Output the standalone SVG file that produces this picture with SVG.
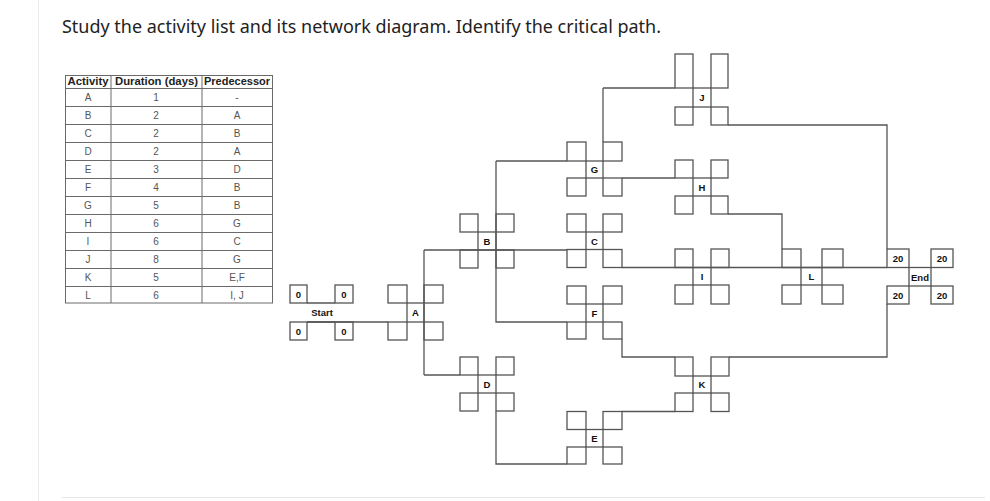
<svg xmlns="http://www.w3.org/2000/svg" width="990" height="501" viewBox="0 0 990 501">
<style>
.t{font-family:"Liberation Sans",Arial,sans-serif;}
.title{font-family:"Noto Sans","Open Sans","Liberation Sans",sans-serif;font-size:18px;fill:#222;}
.hd{font-family:"Liberation Sans",Arial,sans-serif;font-size:10px;font-weight:bold;fill:#222;text-anchor:middle;}
.cell{font-family:"Liberation Sans",Arial,sans-serif;font-size:10px;fill:#555;text-anchor:middle;}
.grid{fill:none;stroke:#6a6a6a;stroke-width:1;}
.box{fill:none;stroke:#555;stroke-width:1.3;}
.ln{fill:none;stroke:#555;stroke-width:1.3;}
.lbl{font-family:"Liberation Sans",Arial,sans-serif;font-size:9.5px;font-weight:bold;fill:#111;text-anchor:middle;}
</style>
<rect width="990" height="501" fill="#fff"/>
<line x1="38.5" y1="0" x2="38.5" y2="501" stroke="#ececec" stroke-width="1"/>
<line x1="62" y1="497.5" x2="985" y2="497.5" stroke="#e6e6e6" stroke-width="1"/>
<text class="title" x="62" y="33" textLength="599" lengthAdjust="spacingAndGlyphs">Study the activity list and its network diagram. Identify the critical path.</text>

<g id="table">
<rect class="grid" x="65.5" y="75.5" width="207" height="227.5"/>
<line class="grid" x1="111" y1="75.5" x2="111" y2="303"/>
<line class="grid" x1="202" y1="75.5" x2="202" y2="303"/>
<g class="grid">
<line x1="65.5" y1="88.5" x2="272.5" y2="88.5"/>
<line x1="65.5" y1="106.5" x2="272.5" y2="106.5"/>
<line x1="65.5" y1="124.5" x2="272.5" y2="124.5"/>
<line x1="65.5" y1="142.5" x2="272.5" y2="142.5"/>
<line x1="65.5" y1="160.5" x2="272.5" y2="160.5"/>
<line x1="65.5" y1="178.5" x2="272.5" y2="178.5"/>
<line x1="65.5" y1="196.5" x2="272.5" y2="196.5"/>
<line x1="65.5" y1="214.5" x2="272.5" y2="214.5"/>
<line x1="65.5" y1="232.5" x2="272.5" y2="232.5"/>
<line x1="65.5" y1="250.5" x2="272.5" y2="250.5"/>
<line x1="65.5" y1="268.5" x2="272.5" y2="268.5"/>
<line x1="65.5" y1="286.5" x2="272.5" y2="286.5"/>
</g>
<text class="hd" x="88" y="85" textLength="41" lengthAdjust="spacingAndGlyphs">Activity</text>
<text class="hd" x="156.5" y="85" textLength="83" lengthAdjust="spacingAndGlyphs">Duration (days)</text>
<text class="hd" x="237" y="85" textLength="66" lengthAdjust="spacingAndGlyphs">Predecessor</text>
<g class="cell">
<text x="88" y="101">A</text><text x="156" y="101">1</text><text x="237" y="101">-</text>
<text x="88" y="119">B</text><text x="156" y="119">2</text><text x="237" y="119">A</text>
<text x="88" y="137">C</text><text x="156" y="137">2</text><text x="237" y="137">B</text>
<text x="88" y="155">D</text><text x="156" y="155">2</text><text x="237" y="155">A</text>
<text x="88" y="173">E</text><text x="156" y="173">3</text><text x="237" y="173">D</text>
<text x="88" y="191">F</text><text x="156" y="191">4</text><text x="237" y="191">B</text>
<text x="88" y="209">G</text><text x="156" y="209">5</text><text x="237" y="209">B</text>
<text x="88" y="227">H</text><text x="156" y="227">6</text><text x="237" y="227">G</text>
<text x="88" y="245">I</text><text x="156" y="245">6</text><text x="237" y="245">C</text>
<text x="88" y="263">J</text><text x="156" y="263">8</text><text x="237" y="263">G</text>
<text x="88" y="281">K</text><text x="156" y="281">5</text><text x="237" y="281">E,F</text>
<text x="88" y="299">L</text><text x="156" y="299">6</text><text x="237" y="299">I, J</text>
</g>
</g>

<g id="connectors" class="ln">
<path d="M307 322 H388"/>
<path d="M424 250 V375"/>
<path d="M424 250 H567"/>
<path d="M424 375 H460"/>
<path d="M496 161 V322 H567"/>
<path d="M496 161 H567"/>
<path d="M496 411 V464 H567"/>
<path d="M603 88 V142"/>
<path d="M603 88 H675"/>
<path d="M622 178 H675"/>
<path d="M622 267.5 H887"/>
<path d="M622 339 V357 H675"/>
<path d="M622 411.5 H675"/>
<path d="M728 125 H887 V249"/>
<path d="M728 214 H782 V249"/>
<path d="M729 357 H887 V304"/>
</g>

<g id="node-start">
<rect class="box" x="290" y="285" width="17" height="18"/>
<rect class="box" x="335" y="285" width="18" height="18"/>
<rect class="box" x="290" y="322" width="17" height="18"/>
<rect class="box" x="335" y="322" width="18" height="18"/>
<path class="ln" d="M307 303 H335 M307 322 H335"/>
<text class="lbl" x="298.5" y="297.5">0</text>
<text class="lbl" x="344" y="297.5">0</text>
<text class="lbl" x="298.5" y="334.5">0</text>
<text class="lbl" x="344" y="334.5">0</text>
<text class="lbl" x="322" y="316">Start</text>
</g>

<g id="node-A">
<rect class="box" x="388" y="285" width="19" height="18"/>
<rect class="box" x="424" y="285" width="19" height="18"/>
<rect class="box" x="388" y="322" width="19" height="18"/>
<rect class="box" x="424" y="322" width="19" height="18"/>
<rect class="box" x="407" y="303" width="17" height="19"/>
<text class="lbl" x="415.5" y="316">A</text>
</g>

<g id="node-B">
<rect class="box" x="460" y="214" width="18" height="18"/>
<rect class="box" x="496" y="214" width="18" height="18"/>
<rect class="box" x="460" y="250" width="18" height="18"/>
<rect class="box" x="496" y="250" width="18" height="18"/>
<rect class="box" x="478" y="232" width="18" height="18"/>
<text class="lbl" x="487" y="244.5">B</text>
</g>

<g id="node-D">
<rect class="box" x="460" y="357" width="18" height="18"/>
<rect class="box" x="496" y="357" width="18" height="18"/>
<rect class="box" x="460" y="393" width="18" height="18"/>
<rect class="box" x="496" y="393" width="18" height="18"/>
<rect class="box" x="478" y="375" width="18" height="18"/>
<text class="lbl" x="487" y="387.5">D</text>
</g>

<g id="node-G">
<rect class="box" x="567" y="142" width="19" height="19"/>
<rect class="box" x="603" y="142" width="19" height="19"/>
<rect class="box" x="567" y="178" width="19" height="18"/>
<rect class="box" x="603" y="178" width="19" height="18"/>
<rect class="box" x="586" y="161" width="17" height="17"/>
<text class="lbl" x="594.5" y="173">G</text>
</g>

<g id="node-C">
<rect class="box" x="567" y="214" width="19" height="18"/>
<rect class="box" x="603" y="214" width="19" height="18"/>
<rect class="box" x="567" y="249.5" width="19" height="18"/>
<rect class="box" x="603" y="249.5" width="19" height="18"/>
<rect class="box" x="586" y="232" width="17" height="17.5"/>
<text class="lbl" x="594.5" y="244.5">C</text>
</g>

<g id="node-F">
<rect class="box" x="567" y="286" width="19" height="18"/>
<rect class="box" x="603" y="286" width="19" height="18"/>
<rect class="box" x="567" y="322" width="19" height="17"/>
<rect class="box" x="603" y="322" width="19" height="17"/>
<rect class="box" x="586" y="304" width="17" height="18"/>
<text class="lbl" x="594.5" y="316.5">F</text>
</g>

<g id="node-E">
<rect class="box" x="567" y="411.5" width="19" height="18"/>
<rect class="box" x="603" y="411.5" width="19" height="18"/>
<rect class="box" x="567" y="447" width="19" height="17"/>
<rect class="box" x="603" y="447" width="19" height="17"/>
<rect class="box" x="586" y="429.5" width="17" height="17.5"/>
<text class="lbl" x="594.5" y="441.5">E</text>
</g>

<g id="node-J">
<rect class="box" x="675" y="54" width="18" height="34"/>
<rect class="box" x="711" y="54" width="17" height="34"/>
<rect class="box" x="675" y="107" width="18" height="18"/>
<rect class="box" x="711" y="107" width="17" height="18"/>
<rect class="box" x="693" y="88" width="18" height="19"/>
<text class="lbl" x="702" y="101">J</text>
</g>

<g id="node-H">
<rect class="box" x="675" y="160" width="18" height="18"/>
<rect class="box" x="711" y="160" width="17" height="18"/>
<rect class="box" x="675" y="196" width="18" height="18"/>
<rect class="box" x="711" y="196" width="17" height="18"/>
<rect class="box" x="693" y="178" width="18" height="18"/>
<text class="lbl" x="702" y="190.5">H</text>
</g>

<g id="node-I">
<rect class="box" x="675" y="249" width="18" height="18.5"/>
<rect class="box" x="711" y="249" width="18" height="18.5"/>
<rect class="box" x="675" y="285" width="18" height="19"/>
<rect class="box" x="711" y="285" width="18" height="19"/>
<rect class="box" x="693" y="267.5" width="18" height="17.5"/>
<text class="lbl" x="702" y="279.5">I</text>
</g>

<g id="node-K">
<rect class="box" x="675" y="357" width="18" height="19"/>
<rect class="box" x="711" y="357" width="18" height="19"/>
<rect class="box" x="675" y="393" width="18" height="18.5"/>
<rect class="box" x="711" y="393" width="18" height="18.5"/>
<rect class="box" x="693" y="376" width="18" height="17"/>
<text class="lbl" x="702" y="388">K</text>
</g>

<g id="node-L">
<rect class="box" x="782" y="249" width="19" height="18.5"/>
<rect class="box" x="822" y="249" width="21" height="18.5"/>
<rect class="box" x="782" y="285" width="19" height="19"/>
<rect class="box" x="822" y="285" width="21" height="19"/>
<rect class="box" x="801" y="267.5" width="21" height="17.5"/>
<text class="lbl" x="811.5" y="280">L</text>
</g>

<g id="node-end">
<rect class="box" x="887" y="249" width="22" height="18.5"/>
<rect class="box" x="931" y="249" width="22" height="18.5"/>
<rect class="box" x="887" y="286" width="22" height="18"/>
<rect class="box" x="931" y="286" width="22" height="18"/>
<rect class="box" x="909" y="267.5" width="22" height="18.5"/>
<text class="lbl" x="898" y="262">20</text>
<text class="lbl" x="942" y="262">20</text>
<text class="lbl" x="898" y="299">20</text>
<text class="lbl" x="942" y="299">20</text>
<text class="lbl" x="920" y="281">End</text>
</g>
</svg>
